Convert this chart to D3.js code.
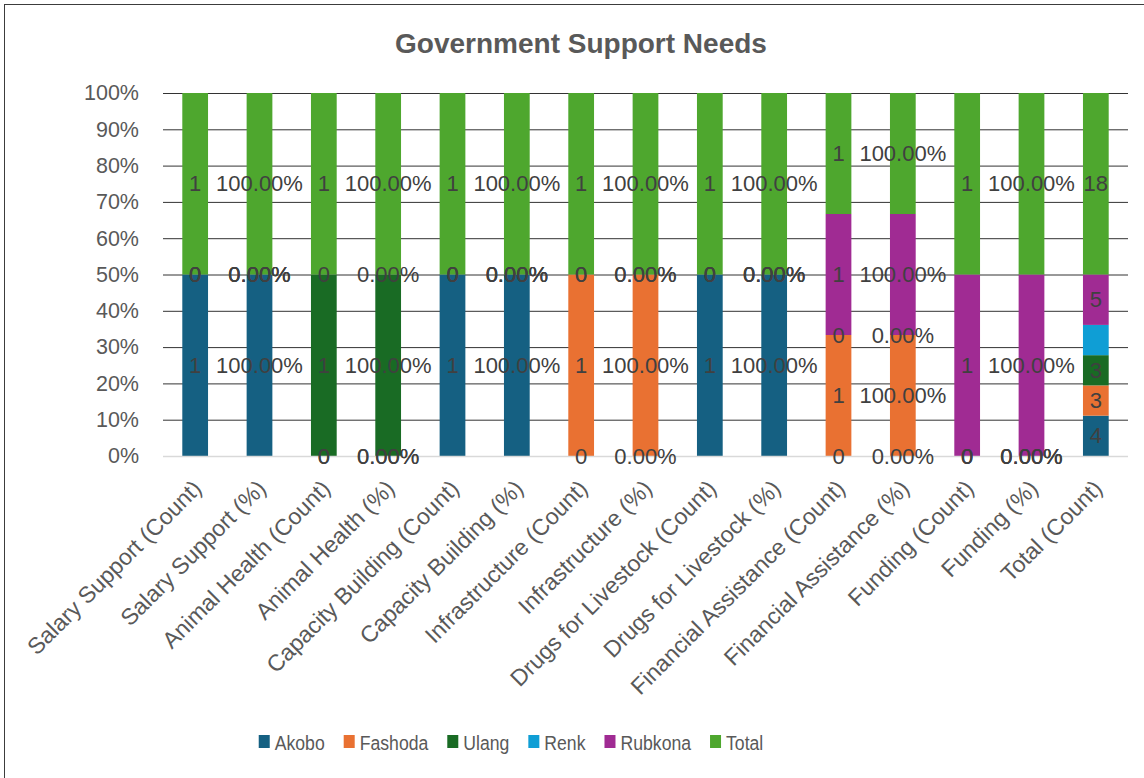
<!DOCTYPE html>
<html>
<head>
<meta charset="utf-8">
<script src="https://cdn.jsdelivr.net/npm/d3@7"></script>
<style>
  html, body { margin: 0; padding: 0; background: #fff; }
  svg { display: block; }
</style>
</head>
<body>
<svg id="chart" width="1144" height="778"></svg>
<script>
const categories = [
  "Salary Support (Count)", "Salary Support (%)",
  "Animal Health (Count)", "Animal Health (%)",
  "Capacity Building (Count)", "Capacity Building (%)",
  "Infrastructure (Count)", "Infrastructure (%)",
  "Drugs for Livestock (Count)", "Drugs for Livestock (%)",
  "Financial Assistance (Count)", "Financial Assistance (%)",
  "Funding (Count)", "Funding (%)",
  "Total (Count)"
];
const seriesNames = ["Akobo", "Fashoda", "Ulang", "Renk", "Rubkona", "Total"];
const akobo   = [1, 1, 0, 0, 1, 1, 0, 0, 1, 1, 0, 0, 0, 0, 4];
const fashoda = [0, 0, 0, 0, 0, 0, 1, 1, 0, 0, 1, 1, 0, 0, 3];
const ulang   = [0, 0, 1, 1, 0, 0, 0, 0, 0, 0, 0, 0, 0, 0, 3];
const renk    = [0, 0, 0, 0, 0, 0, 0, 0, 0, 0, 0, 0, 0, 0, 3];
const rubkona = [0, 0, 0, 0, 0, 0, 0, 0, 0, 0, 1, 1, 1, 1, 5];
const total   = [1, 1, 1, 1, 1, 1, 1, 1, 1, 1, 1, 1, 1, 1, 18];
const labelledSeries = ["Akobo", "Fashoda", "Ulang", "Rubkona", "Total"];
const yTicks = [0, 0.1, 0.2, 0.3, 0.4, 0.5, 0.6, 0.7, 0.8, 0.9, 1.0];
const title = "Government Support Needs";

const colors = {
  Akobo: "#156082", Fashoda: "#E97132", Ulang: "#196B24",
  Renk: "#0F9ED5", Rubkona: "#A02B93", Total: "#4EA72E"
};
const valuesBySeries = { Akobo: akobo, Fashoda: fashoda, Ulang: ulang, Renk: renk, Rubkona: rubkona, Total: total };

const rows = categories.map((c, i) => {
  const r = { category: c };
  seriesNames.forEach(s => r[s] = valuesBySeries[s][i]);
  return r;
});

const svg = d3.select("#chart");
const W = 1144, H = 778;
const plot = { left: 163, right: 1128, top: 93, bottom: 456 };
const FONT = "'Liberation Sans', Arial, sans-serif";

// chart border
svg.append("rect")
  .attr("x", 4.5).attr("y", 4.5).attr("width", W + 10).attr("height", H + 10)
  .attr("fill", "#fff").attr("stroke", "#3c3c3c").attr("stroke-width", 1);

const x = d3.scaleBand().domain(categories).range([plot.left, plot.right])
  .paddingInner(0.6).paddingOuter(0.3);
const y = d3.scaleLinear().domain([0, 1]).range([plot.bottom, plot.top]);

// title
svg.append("text")
  .attr("x", 581).attr("y", 53)
  .attr("text-anchor", "middle")
  .attr("font-family", FONT).attr("font-weight", "bold").attr("font-size", 28)
  .attr("fill", "#595959")
  .text(title);

// y axis + gridlines
const yAxis = svg.append("g")
  .attr("transform", `translate(${plot.left},0)`)
  .call(d3.axisLeft(y).tickValues(yTicks).tickFormat(d3.format(".0%"))
    .tickSize(-(plot.right - plot.left)).tickPadding(24));
yAxis.select(".domain").remove();
yAxis.selectAll(".tick line")
  .attr("stroke", d => d === 0 ? "none" : "#333").attr("stroke-width", 1);
yAxis.selectAll(".tick text")
  .attr("font-family", FONT).attr("font-size", 21.5).attr("fill", "#595959");

// stacked bars
const stack = d3.stack().keys(seriesNames).offset(d3.stackOffsetExpand);
const stacked = stack(rows);

svg.append("g").selectAll("g")
  .data(stacked).join("g")
  .attr("fill", d => colors[d.key])
  .selectAll("rect")
  .data(d => d).join("rect")
  .attr("x", d => x(d.data.category))
  .attr("width", x.bandwidth())
  .attr("y", d => y(d[1]))
  .attr("height", d => Math.max(0, y(d[0]) - y(d[1])));

// baseline
svg.append("line")
  .attr("x1", plot.left).attr("x2", plot.right)
  .attr("y1", y(0) + 0.5).attr("y2", y(0) + 0.5)
  .attr("stroke", "#d9d9d9").attr("stroke-width", 1.5);

// data labels
const pctFmt = d3.format(".2%");
const labelG = svg.append("g");
stacked.filter(s => labelledSeries.includes(s.key)).forEach(s => {
  labelG.selectAll(null)
    .data(s).join("text")
    .attr("x", d => x(d.data.category) + x.bandwidth() / 2)
    .attr("y", d => y((d[0] + d[1]) / 2))
    .attr("text-anchor", "middle")
    .attr("dominant-baseline", "central")
    .attr("font-family", FONT).attr("font-size", 22)
    .attr("fill", "#404040")
    .text(d => {
      const v = d.data[s.key];
      return d.data.category.includes("(%)") ? pctFmt(v) : String(v);
    });
});

// x axis
const xAxis = svg.append("g")
  .attr("transform", `translate(0,${plot.bottom})`)
  .call(d3.axisBottom(x).tickSize(0).tickFormat(d => d));
xAxis.select(".domain").remove();
xAxis.selectAll(".tick text")
  .attr("font-family", FONT).attr("font-size", 23).attr("fill", "#595959")
  .attr("text-anchor", "end")
  .attr("dominant-baseline", "hanging")
  .attr("x", 0).attr("y", 0).attr("dy", null)
  .attr("transform", "translate(-4,22) rotate(-45)");

// legend
const legend = svg.append("g");
const items = legend.selectAll("g").data(seriesNames).join("g");
items.append("rect").attr("width", 11).attr("height", 13).attr("y", -7)
  .attr("fill", d => colors[d]);
const LEG_SCALE = 0.84;
items.append("text")
  .attr("transform", `translate(16,0) scale(${LEG_SCALE},1)`)
  .attr("dominant-baseline", "central")
  .attr("font-family", FONT)
  .attr("font-size", 21).attr("fill", "#595959")
  .text(d => d);
let cx = 0;
const positions = [];
items.each(function () {
  const tw = d3.select(this).select("text").node().getComputedTextLength() * LEG_SCALE;
  positions.push(cx);
  cx += 16 + tw + 19;
});
const legendWidth = cx - 19;
const legendStart = 511 - legendWidth / 2;
items.attr("transform", (d, i) => `translate(${legendStart + positions[i]},742)`);
</script>
</body>
</html>
